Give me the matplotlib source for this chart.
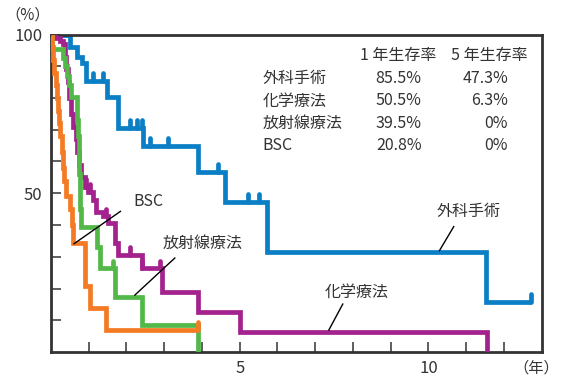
import matplotlib
matplotlib.use("Agg")
import matplotlib.pyplot as plt

plt.rcParams['font.family'] = ['Noto Sans CJK JP', 'DejaVu Sans']

# 生存曲線（年, 生存率%）: steps-post で描画
surg_t = [0, 0.50, 0.68, 0.81, 0.93, 1.48, 1.77, 2.43, 3.89, 4.60, 5.72, 11.53, 12.72]
surg_s = [100, 96, 93, 91, 85.5, 80.4, 70.7, 65.0, 56.8, 47.3, 31.6, 15.9, 15.9]
surg_cens_t = [0.19, 0.32, 0.42, 1.11, 1.38, 2.09, 2.27, 2.40, 2.62, 3.10, 4.43, 5.21, 5.50, 12.72]

chemo_t = [0, 0.10, 0.25, 0.33, 0.36, 0.40, 0.44, 0.48, 0.53, 0.59, 0.65, 0.70, 0.75,
           0.80, 0.90, 0.97, 1.10, 1.20, 1.38, 1.51, 1.69, 1.78, 2.40, 2.95, 3.90, 5.00, 11.55]
chemo_s = [100, 99, 98, 97, 93, 89, 85, 80, 75, 71, 67, 63, 59,
           55, 52, 50.5, 48, 44, 42.7, 40.7, 34.4, 30.6, 26.4, 19.0, 12.5, 6.3, 0]
chemo_cens_t = [0.93, 1.02, 1.45, 2.09, 2.40, 2.88]

rad_t = [0, 0.03, 0.33, 0.38, 0.43, 0.48, 0.53, 0.68, 0.70, 0.72, 0.74, 0.75, 0.77,
         0.78, 0.80, 1.21, 1.30, 1.69, 2.40, 3.90]
rad_s = [100, 95.3, 92.5, 90, 87, 84, 80.4, 77, 73, 68, 62, 56, 50,
         45, 39.5, 33.2, 26.4, 17.4, 8.5, 0]
rad_cens_t = [1.65]

bsc_t = [0, 0.03, 0.06, 0.09, 0.12, 0.15, 0.18, 0.21, 0.24, 0.28, 0.32, 0.35, 0.40,
         0.50, 0.55, 0.58, 0.90, 1.02, 1.47, 3.90]
bsc_s = [100, 96, 92, 88, 84, 80, 76, 72, 68, 63, 58, 54, 49,
         45, 40, 34.3, 20.8, 13.8, 6.9, 6.9]
bsc_cens_t = [3.90]

groups = ['外科手術', '化学療法', '放射線療法', 'BSC']
rate_1y = ['85.5%', '50.5%', '39.5%', '20.8%']
rate_5y = ['47.3%', '6.3%', '0%', '0%']

colors = {'surg': '#0a7fc6', 'chemo': '#a3228d', 'rad': '#52b848', 'bsc': '#f47a24'}

fig = plt.figure(figsize=(5.62, 3.80), dpi=100)
ax = fig.add_axes([51 / 562, 1 - 352 / 380, 490.7 / 562, 317.5 / 380])

lw = 3.4


def step_value(ts, ss, t):
    v = ss[0]
    for ti, si in zip(ts, ss):
        if ti <= t:
            v = si
    return v


def draw_curve(ts, ss, cens, color, z):
    ax.plot(ts, ss, drawstyle='steps-post', color=color, lw=lw,
            solid_joinstyle='miter', solid_capstyle='butt', zorder=z)
    for c in cens:
        y = step_value(ts, ss, c)
        ax.plot([c, c], [y, y + 2.4], color=color, lw=lw,
                solid_capstyle='round', zorder=z)


draw_curve(surg_t, surg_s, surg_cens_t, colors['surg'], 2)
draw_curve(chemo_t, chemo_s, chemo_cens_t, colors['chemo'], 3)
draw_curve(rad_t, rad_s, rad_cens_t, colors['rad'], 4)
draw_curve(bsc_t, bsc_s, bsc_cens_t, colors['bsc'], 5)

ax.set_xlim(0, 13)
ax.set_ylim(0, 100)

# 軸と目盛り
for sp in ax.spines.values():
    sp.set_linewidth(2.0)
    sp.set_color('#333333')
ax.set_xticks(range(1, 13))
ax.set_xticklabels(['' if i not in (5, 10) else str(i) for i in range(1, 13)])
ax.set_yticks(range(10, 101, 10))
ax.set_yticklabels(['50' if v == 50 else ('100' if v == 100 else '') for v in range(10, 101, 10)])
ax.tick_params(direction='in', length=7, width=1.1, color='#333333',
               labelsize=12, labelcolor='#333333')
ax.tick_params(axis='x', pad=6)
ax.tick_params(axis='y', pad=6)

ax.text(-0.047, 1.061, '（%）', transform=ax.transAxes, fontsize=11,
        ha='center', va='center', color='#333333')
ax.text(1.035, -0.05, '（年）', transform=ax.transAxes, fontsize=11,
        ha='right', va='center', color='#333333')

# 生存率の表
tc = '#333333'
fs = 11.5
ax.text(9.20, 93.5, '1 年生存率', fontsize=fs, ha='center', va='center', color=tc)
ax.text(11.61, 93.5, '5 年生存率', fontsize=fs, ha='center', va='center', color=tc)
for i, (g, r1, r5) in enumerate(zip(groups, rate_1y, rate_5y)):
    y = 86.2 - i * 7.1
    ax.text(5.61, y, g, fontsize=fs, ha='left', va='center', color=tc)
    ax.text(9.82, y, r1, fontsize=fs, ha='right', va='center', color=tc)
    ax.text(12.11, y, r5, fontsize=fs, ha='right', va='center', color=tc)

# 曲線のラベルと引き出し線
labels = [
    ('BSC', 2.58, 47.5, (1.84, 0.61), (44.3, 34.1)),
    ('放射線療法', 4.01, 34.2, (3.28, 2.22), (29.6, 17.9)),
    ('外科手術', 11.07, 44.1, (10.67, 10.29), (39.5, 31.9)),
    ('化学療法', 8.11, 18.9, (7.73, 7.36), (15.1, 6.9)),
]
for name, tx, ty, lx, ly in labels:
    ax.text(tx, ty, name, fontsize=fs, ha='center', va='center', color=tc)
    ax.plot(lx, ly, color='black', lw=1.0, zorder=6)

fig.savefig('out.png', dpi=100)
